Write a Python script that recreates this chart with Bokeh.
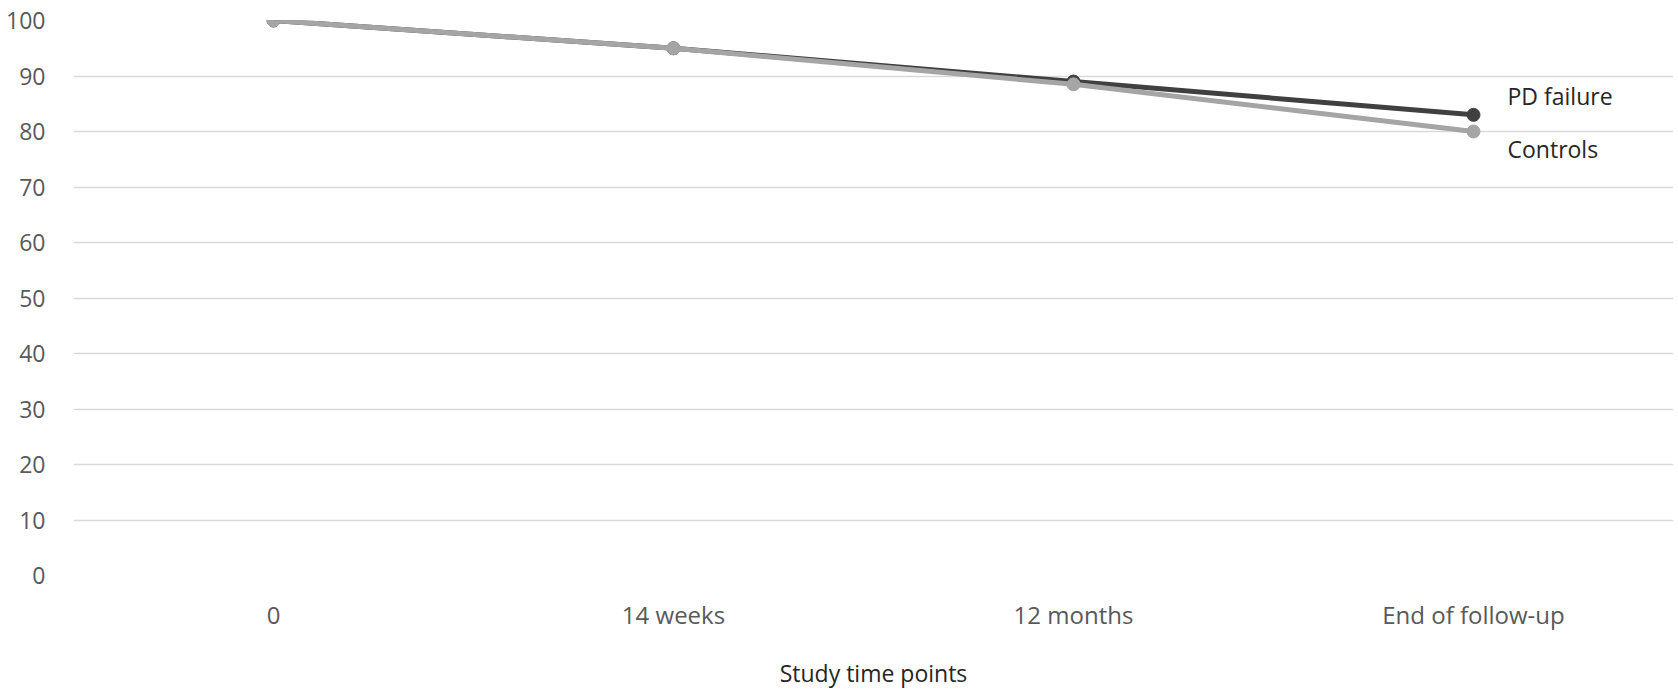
from bokeh.plotting import figure
from bokeh.models import FactorRange, Range1d, FixedTicker
from bokeh.core.properties import value
from bokeh.embed import file_html
from bokeh.resources import INLINE

categories = ["0", "14 weeks", "12 months", "End of follow-up"]
pd_failure = [100, 95, 89, 83]
controls = [100, 95, 88.5, 80]
y_ticks = [0, 10, 20, 30, 40, 50, 60, 70, 80, 90, 100]
series_names = ["PD failure", "Controls"]

FONT = "Open Sans"

p = figure(width=1678, height=692,
           x_range=FactorRange(*categories, range_padding=0),
           y_range=Range1d(0, 100),
           output_backend="svg", toolbar_location=None,
           min_border_left=73, min_border_right=5,
           min_border_top=20, min_border_bottom=117)

p.outline_line_color = None
p.background_fill_color = "white"
p.border_fill_color = "white"

p.xgrid.grid_line_color = None
p.ygrid.ticker = FixedTicker(ticks=y_ticks)
p.ygrid.grid_line_color = "#d9d9d9"
p.ygrid.grid_line_width = 1.5

p.yaxis.ticker = FixedTicker(ticks=y_ticks)
for ax in (p.xaxis, p.yaxis):
    ax.axis_line_color = None
    ax.major_tick_line_color = None
    ax.minor_tick_line_color = None
    ax.major_tick_out = 0
    ax.major_tick_in = 0
    ax.major_label_text_font = FONT
    ax.major_label_text_color = "#595959"

p.yaxis.major_label_text_font_size = "23px"
p.xaxis.major_label_text_font_size = "24px"
p.yaxis.major_label_standoff = 28
p.xaxis.major_label_standoff = 22
p.xaxis.axis_label = "Study time points"
p.xaxis.axis_label_text_font = FONT
p.xaxis.axis_label_text_font_size = "23px"
p.xaxis.axis_label_text_font_style = "normal"
p.xaxis.axis_label_text_color = "#262626"
p.xaxis.axis_label_standoff = 23

p.line(x=categories, y=pd_failure, line_width=5, line_color="#404040")
p.scatter(x=categories, y=pd_failure, size=13, fill_color="#404040", line_color="#404040")
p.line(x=categories, y=controls, line_width=5, line_color="#a5a5a5")
p.scatter(x=categories, y=controls, size=13, fill_color="#a5a5a5", line_color="#a5a5a5")

p.text(x=[categories[-1]], y=[pd_failure[-1]], text=[series_names[0]],
       x_offset=34, y_offset=-19, text_align="left", text_baseline="middle",
       text_font=value(FONT), text_font_size="23px", text_color="#262626")
p.text(x=[categories[-1]], y=[controls[-1]], text=[series_names[1]],
       x_offset=34, y_offset=17, text_align="left", text_baseline="middle",
       text_font=value(FONT), text_font_size="23px", text_color="#262626")

open("out.html", "w").write(file_html(p, INLINE))
